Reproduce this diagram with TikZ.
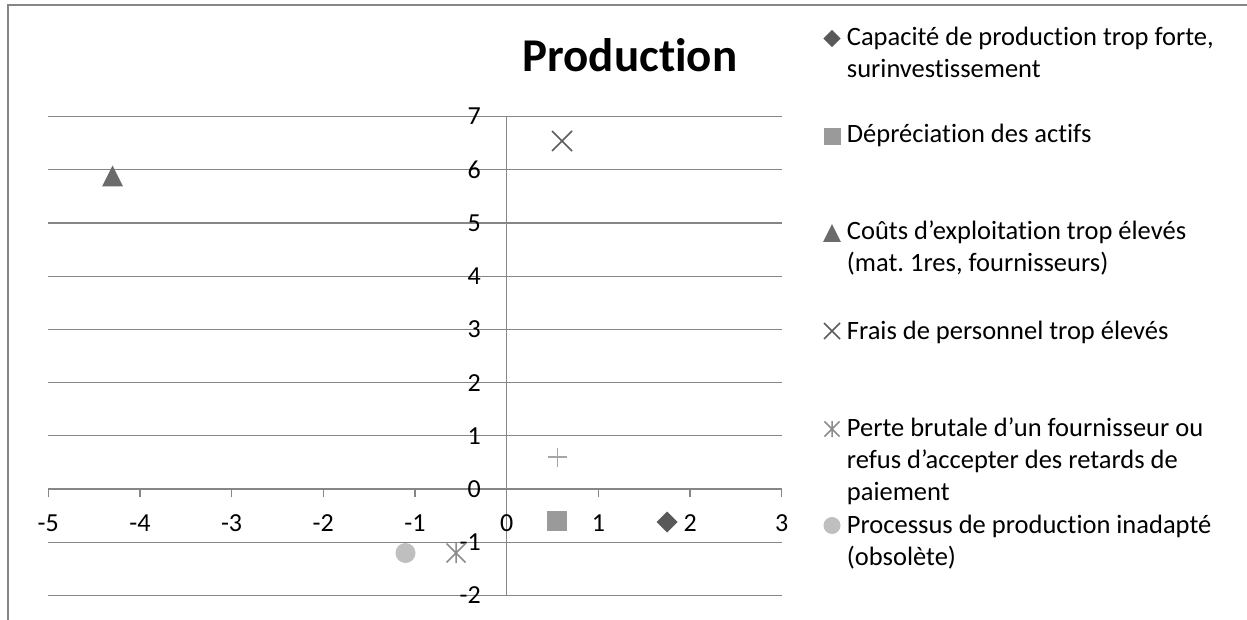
\documentclass[tikz,border=0pt]{standalone}
\usepackage{fontspec}
\setmainfont{Carlito}[Ligatures=NoCommon]
\frenchspacing
\definecolor{gridc}{HTML}{868686}
\definecolor{cdia}{HTML}{595959}
\definecolor{csq}{HTML}{9A9A9A}
\definecolor{ctri}{HTML}{6B6B6B}
\definecolor{cx}{HTML}{5C5C5C}
\definecolor{cplus}{HTML}{A6A6A6}
\definecolor{cast}{HTML}{8C8C8C}
\definecolor{ccirc}{HTML}{BFBFBF}
\tikzset{
  grid line/.style={draw=gridc, line width=1.3pt},
  ylab/.style={anchor=east, inner sep=0pt, font=\fontsize{26}{30}\selectfont},
  xlab/.style={anchor=center, inner sep=0pt, font=\fontsize{26}{30}\selectfont},
  legtext/.style={anchor=base west, inner sep=0pt, font=\fontsize{26.5}{32}\selectfont},
  mdia/.pic={\fill[cdia] (-10.5,0)--(0,-10.5)--(10.5,0)--(0,10.5)--cycle;},
  msq/.pic={\fill[csq] (-10,-10) rectangle (10,10);},
  mtri/.pic={\fill[ctri] (-10.5,10.5)--(10.5,10.5)--(0,-10.5)--cycle;},
  mx/.pic={\draw[cx, line width=1.5pt] (-10,-10)--(10,10) (-10,10)--(10,-10);},
  mplus/.pic={\draw[cplus, line width=1.6pt] (-9.5,0)--(9.5,0) (0,-9.5)--(0,9.5);},
  mast/.pic={\draw[cast, line width=1.5pt] (-9.5,-9.5)--(9.5,9.5) (-9.5,9.5)--(9.5,-9.5) (0,-10)--(0,10);},
  mcirc/.pic={\fill[ccirc] (0,0) circle (10);},
}
\begin{document}
\begin{tikzpicture}[x=1pt, y=-1pt]
\useasboundingbox (0,0) rectangle (1247,620);
% outer border
\draw[gridc, line width=1.6pt] (8,620) -- (8,5) -- (1247,5);
% title
\node[anchor=base, inner sep=0pt, font=\fontsize{47}{50}\selectfont\bfseries] (title) at (630,72) {Production};
% horizontal gridlines
\foreach \v in {-2,...,7} {
  \draw[grid line] (48.3,{489-53.2*\v}) -- (781.7,{489-53.2*\v});
  \draw[grid line] (498.7,{489-53.2*\v}) -- (506.7,{489-53.2*\v});
  \node[ylab] (yl\v) at (481,{489-53.2*\v}) {\v};
}
% y axis
\coordinate (ytop) at (506.7,116.6);
\coordinate (ybot) at (506.7,595.4);
\draw[grid line] (ybot) -- (ytop);
% x ticks and labels
\foreach \u in {-5,...,3} {
  \draw[grid line] ({506.7+91.7*\u},489) -- ({506.7+91.7*\u},497);
  \node[xlab] (xl\u) at ({506.7+91.7*\u},523.5) {\u};
}
% data markers
\pic at (112.5,176) {mtri};
\pic at (562,141) {mx};
\pic at (557.5,457) {mplus};
\pic at (557,521) {msq};
\pic at (667,522) {mdia};
\pic at (456,553) {mast};
\pic at (405.5,553) {mcirc};
% legend
\pic[scale=0.82] at (832,38.5) {mdia};
\node[legtext] (l1a) at (846.7,46) {Capacité de production trop forte,};
\node[legtext] (l1b) at (846.7,78) {surinvestissement};
\pic[scale=0.85] at (832,136.5) {msq};
\node[legtext] (l2a) at (846.7,143) {Dépréciation des actifs};
\pic[scale=0.85] at (832,233) {mtri};
\node[legtext] (l3a) at (846.7,240) {Coûts d’exploitation trop élevés};
\node[legtext] (l3b) at (846.7,272) {(mat. 1res, fournisseurs)};
\pic[scale=0.8] at (832,331) {mx};
\node[legtext] (l4a) at (846.7,339) {Frais de personnel trop élevés};
\pic[scale=0.8] at (832,429) {mast};
\node[legtext] (l5a) at (846.7,436) {Perte brutale d’un fournisseur ou};
\node[legtext] (l5b) at (846.7,468) {refus d’accepter des retards de};
\node[legtext] (l5c) at (846.7,500) {paiement};
\pic[scale=0.85] at (832,525.5) {mcirc};
\node[legtext] (l6a) at (846.7,533) {Processus de production inadapté};
\node[legtext] (l6b) at (846.7,565) {(obsolète)};
\end{tikzpicture}
\end{document}
